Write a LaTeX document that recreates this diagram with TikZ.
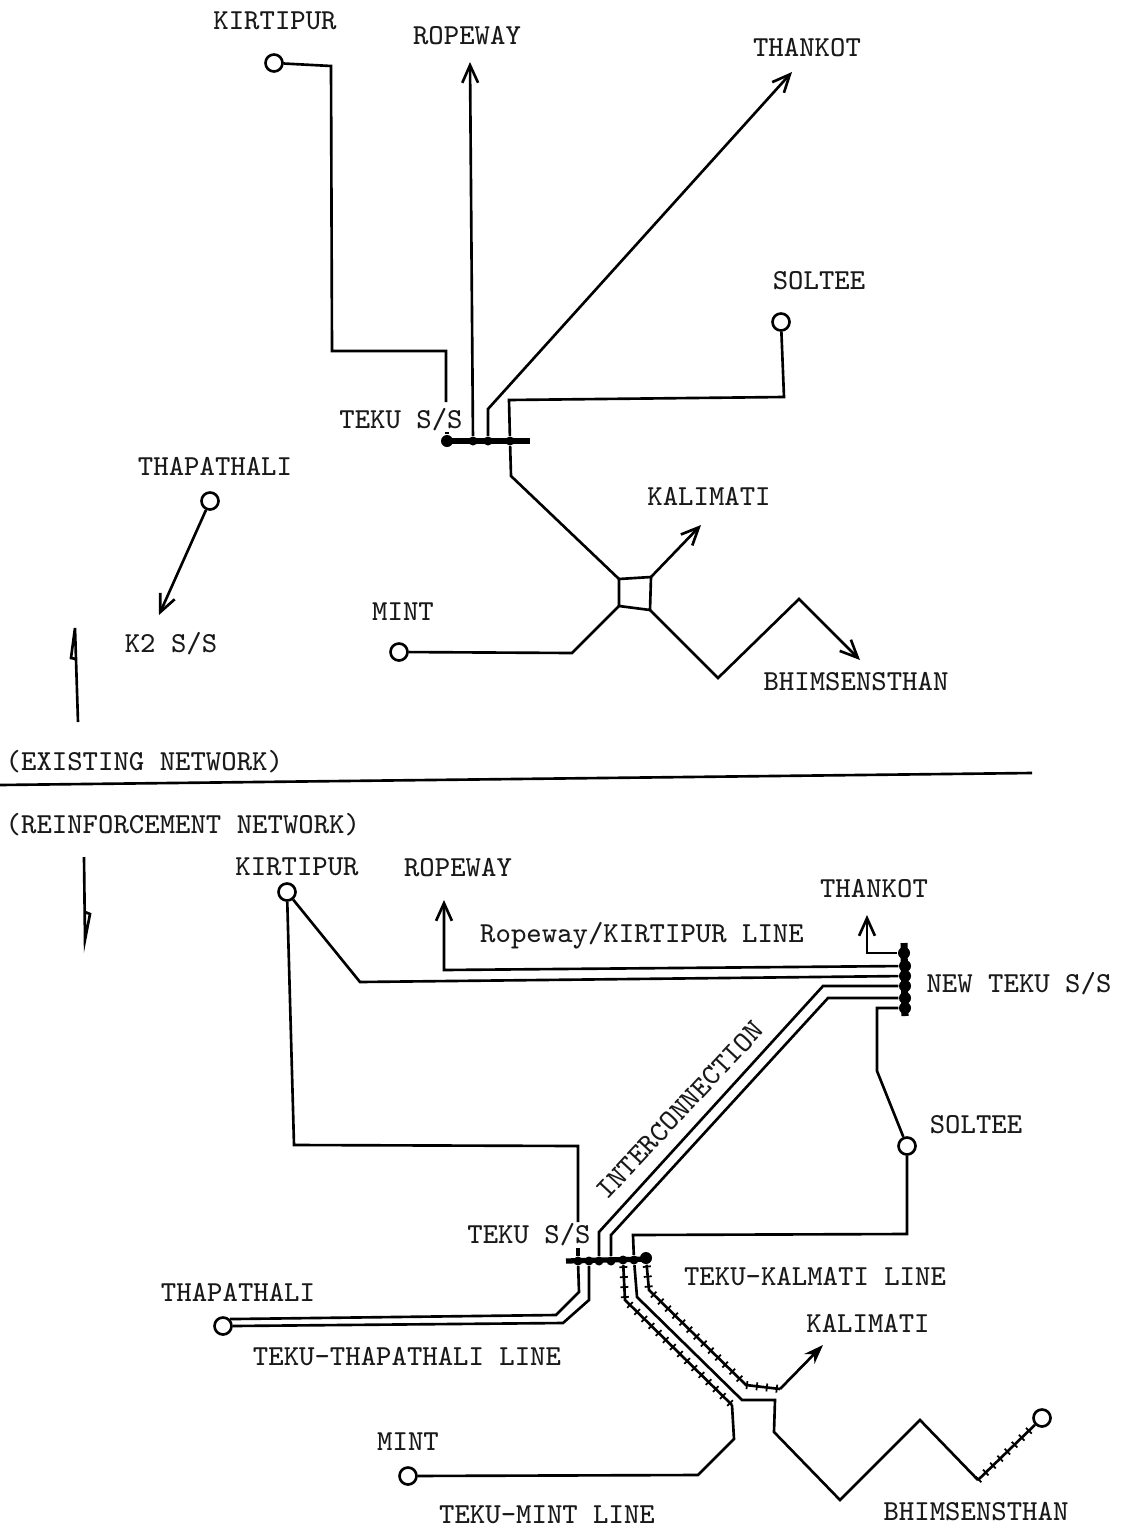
\documentclass[tikz,border=0pt]{standalone}
\usetikzlibrary{arrows.meta, decorations.markings}
\tikzset{
  lbl/.style={font=\fontsize{8.25}{10}\selectfont\ttfamily, inner sep=0pt, text=black!90},
  wire/.style={draw=black, line width=0.75pt, line join=miter},
  wirearrow/.style={wire, -{Straight Barb[length=5pt, width=4.5pt]}},
  wirefill/.style={wire, -{Stealth[length=5.5pt, width=4pt]}},
  bus/.style={draw=black, line width=1.5pt},
  stn/.style={circle, draw=black, fill=white, line width=0.75pt, minimum size=0.17cm, inner sep=0pt},
  busdot/.style={circle, fill=black, minimum size=0.09cm, inner sep=0pt},
  busbig/.style={circle, fill=black, minimum size=0.12cm, inner sep=0pt},
  hatched/.style={wire, postaction={decorate}, decoration={markings,
    mark=between positions 0.01 and 0.99 step 0.1cm with {\draw[line width=0.5pt] (0cm,-0.04cm) -- (0cm,0.04cm);}}}
}

\begin{document}
\begin{tikzpicture}[x=0.01cm, y=-0.01cm]
\useasboundingbox (0,0) rectangle (1120,1530);

% existing network
\node[lbl] (kirtipurA)  at (275,21)  {KIRTIPUR};
\node[lbl] (ropewayA)   at (467,36)  {ROPEWAY};
\node[lbl] (thankotA)   at (807,48)  {THANKOT};
\node[lbl] (solteeA)    at (819,281) {SOLTEE};
\node[lbl] (tekuA)      at (401,420) {TEKU S/S};
\node[lbl] (thapaA)     at (215,466) {THAPATHALI};
\node[lbl] (kalimatiA)  at (709,496) {KALIMATI};
\node[lbl] (mintA)      at (403,612) {MINT};
\node[lbl] (ktwoA)      at (171,644) {K2 S/S};
\node[lbl] (bhimA)      at (856,682) {BHIMSENSTHAN};
\node[lbl, anchor=west] (existing) at (5,762) {(EXISTING NETWORK)};
\node[lbl, anchor=west] (reinf)    at (5,825) {(REINFORCEMENT NETWORK)};

\node[stn] (kirtipurAs) at (274,63)  {};
\node[stn] (solteeAs)   at (781,322) {};
\node[stn] (thapaAs)    at (210,501) {};
\node[stn] (mintAs)     at (399,652) {};

\coordinate (busAl) at (447,441);
\coordinate (busAr) at (530,441);
\draw[bus] (busAl) -- (busAr);
\node[busbig] (busA) at (447,441) {};
\node[busdot] (busB) at (473,441) {};
\node[busdot] (busC) at (488,441) {};
\node[busdot] (busD) at (510,441) {};

\coordinate (ropewayAe) at (470,62);
\coordinate (thankotAe) at (792,72);
\coordinate (kirtipurAe) at (446,402);
\coordinate (kirtipurAf) at (447,432);
\coordinate (squareNW) at (619,579);
\coordinate (squareNE) at (651,577);
\coordinate (squareSE) at (650,610);
\coordinate (squareSW) at (619,606);
\coordinate (kalimatiAe) at (701,525);
\coordinate (bhimAe) at (860,660);
\coordinate (ktwoAe) at (159,615);

\draw[wire] (kirtipurAs) -- (331,66) -- (332,351) -- (446,351) -- (kirtipurAe);
\draw[wire, line width=1.2pt] (kirtipurAf) -- (busA);
\draw[wirearrow] (busB) -- (ropewayAe);
\draw[wirearrow] (busC) -- (488,409) -- (thankotAe);
\draw[wire] (solteeAs) -- (784,397) -- (509,400) -- (busD);
\draw[wire] (busD) -- (511,476) -- (squareNW);
\draw[wire] (squareNW) -- (squareNE) -- (squareSE) -- (squareSW) -- cycle;
\draw[wirearrow] (squareNE) -- (kalimatiAe);
\draw[wire] (mintAs) -- (572,653) -- (squareSW);
\draw[wirearrow] (squareSE) -- (718,678) -- (799,599) -- (bhimAe);
\draw[wirearrow] (thapaAs) -- (ktwoAe);

% direction marks and divider
\coordinate (upS) at (78,722);
\coordinate (upT) at (75,628);
\coordinate (downS) at (84,857);
\coordinate (downT) at (85,940);
\draw[wire] (upS) -- (upT) -- (71,658) -- (76,659);
\draw[wire] (downS) -- (downT) -- (90,914) -- (85,912);
\coordinate (divL) at (0,785);
\coordinate (divR) at (1032,773);
\draw[wire] (divL) -- (divR);

% reinforcement network
\node[lbl] (kirtipurB)  at (297,867)   {KIRTIPUR};
\node[lbl] (ropewayB)   at (458,868)   {ROPEWAY};
\node[lbl] (thankotB)   at (874,889)   {THANKOT};
\node[lbl] (ropeline)   at (642,936)   {Ropeway/KIRTIPUR LINE};
\node[lbl] (tekuN)      at (1019,984)  {NEW TEKU S/S};
\node[lbl, rotate=47] (inter) at (680,1110) {INTERCONNECTION};
\node[lbl] (solteeB)    at (976,1125)  {SOLTEE};
\node[lbl] (tekuB)      at (529,1235)  {TEKU S/S};
\node[lbl] (kalline)    at (815,1277)  {TEKU-KALMATI LINE};
\node[lbl] (thapaB)     at (238,1292)  {THAPATHALI};
\node[lbl] (kalimatiB)  at (868,1323)  {KALIMATI};
\node[lbl] (thapaline)  at (407,1357)  {TEKU-THAPATHALI LINE};
\node[lbl] (mintB)      at (408,1442)  {MINT};
\node[lbl] (mintline)   at (547,1515)  {TEKU-MINT LINE};
\node[lbl] (bhimB)      at (976,1512)  {BHIMSENSTHAN};

\node[stn] (kirtipurBs) at (287,892)   {};
\node[stn] (solteeBs)   at (907,1146)  {};
\node[stn] (thapaBs)    at (223,1326)  {};
\node[stn] (mintBs)     at (408,1476)  {};
\node[stn] (bhimBs)     at (1042,1418) {};

% new teku bus
\coordinate (busNt) at (904,943);
\coordinate (busNb) at (905,1016);
\draw[bus, line width=2pt] (busNt) -- (busNb);
\node[busbig] (nA) at (904,953)  {};
\node[busbig] (nB) at (905,966)  {};
\node[busbig] (nC) at (905,976)  {};
\node[busbig] (nD) at (905,986)  {};
\node[busbig] (nE) at (905,998)  {};
\node[busbig] (nF) at (905,1008) {};

% teku bus
\coordinate (busTl) at (566,1261);
\coordinate (busTr) at (648,1259);
\draw[bus] (busTl) -- (busTr);
\node[busdot] (tA) at (578,1261) {};
\node[busdot] (tB) at (589,1261) {};
\node[busdot] (tC) at (599,1261) {};
\node[busdot] (tD) at (611,1261) {};
\node[busdot] (tE) at (623,1260) {};
\node[busdot] (tF) at (634,1260) {};
\node[busbig] (tG) at (646,1258) {};

\coordinate (thankotBe) at (867,915);
\coordinate (ropewayBe) at (444,900);
\coordinate (kirtipurBe) at (578,1222);
\coordinate (kirtipurBf) at (578,1248);
\coordinate (kalimatiBe) at (823,1345);
\coordinate (hatchA) at (732,1405);
\coordinate (hatchB) at (780,1389);
\coordinate (hatchC) at (978,1480);

\draw[wirearrow] (nA) -- (867,953) -- (thankotBe);
\draw[wirearrow] (nB) -- (444,970) -- (ropewayBe);
\draw[wire] (kirtipurBs) -- (360,982) -- (nC);
\draw[wire] (kirtipurBs) -- (294,1145) -- (578,1146) -- (kirtipurBe);
\draw[wire, line width=1.2pt] (kirtipurBf) -- (tA);
\draw[wire] (nD) -- (823,986) -- (599,1232) -- (tC);
\draw[wire] (nE) -- (828,998) -- (611,1235) -- (tD);
\draw[wire] (nF) -- (877,1008) -- (877,1071) -- (solteeBs);
\draw[wire] (solteeBs) -- (907,1234) -- (633,1235) -- (tF);
\draw[wire] (tA) -- (579,1292) -- (556,1315) -- (thapaBs.north east);
\draw[wire] (tB) -- (589,1300) -- (563,1323) -- (thapaBs.east);
\draw[hatched] (tE) -- (625,1300) -- (hatchA);
\draw[wire] (hatchA) -- (734,1439) -- (698,1475) -- (mintBs);
\draw[wire] (tF) -- (637,1297) -- (742,1400) -- (775,1400) -- (774,1432) -- (840,1500) -- (920,1420) -- (hatchC);
\draw[hatched] (hatchC) -- (bhimBs);
\draw[hatched] (tG) -- (649,1290) -- (746,1385) -- (hatchB);
\draw[wirefill] (hatchB) -- (kalimatiBe);
\end{tikzpicture}
\end{document}
